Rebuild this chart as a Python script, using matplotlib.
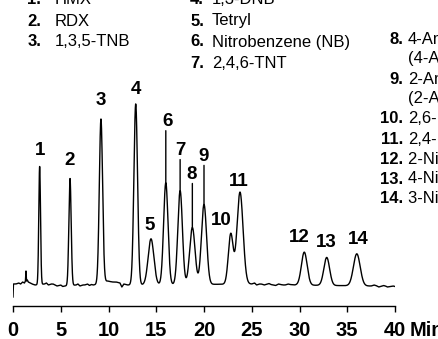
"""Chromatogram of 14 explosives (EPA 8330 style) with compound key."""

import numpy as np
import matplotlib
matplotlib.use("Agg")
import matplotlib.pyplot as plt

plt.rcParams["font.family"] = ["Liberation Sans", "DejaVu Sans"]

# peaks (retention time in min, height, sigma in min)
peak_ids = list(range(1, 15))
peak_times = [2.79, 5.97, 9.21, 12.85, 14.45, 16.0, 17.5, 18.78, 20.0,
              22.8, 23.77, 30.5, 32.85, 36.0]
peak_heights = [118, 107, 164, 181, 46, 102, 94, 57, 80, 50, 92, 33, 28, 32]
peak_sigmas = [0.09, 0.12, 0.17, 0.19, 0.30, 0.23, 0.24, 0.28, 0.27,
               0.25, 0.32, 0.30, 0.30, 0.35]

# baseline (drift / noise) read between the peaks
base_t = [0.0, 0.04, 0.3, 0.6, 0.8, 1.0, 1.2, 1.3, 1.36, 1.42, 1.5, 1.6,
          1.8, 2.0, 2.3, 3.3, 3.5, 3.7, 4.0, 4.2, 4.4, 4.6, 5.0, 5.2, 5.4,
          6.6, 6.8, 7.0, 7.3, 7.5, 7.8, 8.0, 8.2, 8.4, 8.7, 9.9, 10.4, 10.8,
          11.2, 11.4, 11.6, 12.0, 25.0, 25.3, 25.5, 25.8, 26.0, 26.3, 26.5,
          26.8, 27.0, 27.3, 27.5, 27.8, 28.0, 28.3, 28.5, 28.8, 29.0, 29.5,
          37.5, 37.8, 38.0, 38.3, 38.5, 38.8, 39.0, 39.2, 39.5, 39.8, 40.0]
base_v = [-12, 1, 1, 2, 1, 3, 2, 4, 14, 4, 5, 3,
          2, 1, 0, 1, 2, 0, 1, 1, 0, -1, 0, -1.5, -1,
          0, 1, -1, 0, 0, 1, -0.5, 0.5, 0, 0.5, 4, 3, 3,
          2, -2, 1, 0, 1, 2, 0, 1, 1, 0, 0.5,
          1.5, 0.5, 0, -0.5, 1, 0.5, 0, 0, 1, 0.5, 0,
          -1, 0, -0.5, -2, -1.5, -0.5, -1, -2, -1.5, -1, -1.5]

x_ticks = [0, 5, 10, 15, 20, 25, 30, 35, 40]

key_col1 = [("1.", "HMX"), ("2.", "RDX"), ("3.", "1,3,5-TNB")]
key_col2 = [("4.", "1,3-DNB"), ("5.", "Tetryl"), ("6.", "Nitrobenzene (NB)"),
            ("7.", "2,4,6-TNT")]
key_col3 = [("8.", "4-Amino-2,6-dinitrotoluene"), ("", "(4-Am-DNT)"),
            ("9.", "2-Amino-4,6-dinitrotoluene"), ("", "(2-Am-DNT)"),
            ("10.", "2,6-DNT"), ("11.", "2,4-DNT"),
            ("12.", "2-Nitrotoluene (2-NT)"), ("13.", "4-Nitrotoluene (4-NT)"),
            ("14.", "3-Nitrotoluene (3-NT)")]

# label placement (pixel offsets from the peak top)
label_offsets = {1: (0, 16), 2: (0, 18), 3: (0, 19), 4: (0, 14), 5: (-1, 13),
                 6: (2, 61), 7: (0, 40), 8: (-1, 53), 9: (0, 48),
                 10: (-9, 13), 11: (-1, 11), 12: (-5, 15), 13: (0, 15),
                 14: (1, 14)}
leaders = {6, 7, 8, 9}

W, H = 438, 339
fig = plt.figure(figsize=(W / 100, H / 100), dpi=100)


def px(x, y):
    return x / W, 1 - y / H


ax = fig.add_axes([13 / W, 0, (395 - 13) / W, 1])
ax.patch.set_visible(False)
ax.set_xlim(0, 40)
ax.set_ylim(-(H - 285), 285)

t = np.union1d(np.linspace(0, 40, 4001), base_t)
signal = np.interp(t, base_t, base_v)
for tr, h, s in zip(peak_times, peak_heights, peak_sigmas):
    signal = signal + h * np.exp(-0.5 * ((t - tr) / s) ** 2)
ax.plot(t, signal, color="black", lw=1.0, solid_joinstyle="round")

for pid, tr in zip(peak_ids, peak_times):
    top = np.interp(tr, t, signal)
    dx, dy = label_offsets[pid]
    ax.annotate(str(pid), xy=(tr, top), xytext=(dx, dy),
                textcoords="offset pixels", ha="center", va="center",
                fontsize=13.5, fontweight="bold")
    if pid in leaders:
        ax.annotate("", xy=(tr, top), xytext=(0, dy - 9),
                    textcoords="offset pixels",
                    arrowprops=dict(arrowstyle="-", lw=1.0, color="black",
                                    shrinkA=0, shrinkB=0))

# x axis drawn below the trace
for side in ["left", "top", "right"]:
    ax.spines[side].set_visible(False)
ax.spines["bottom"].set_position(("data", -21))
ax.spines["bottom"].set_linewidth(1.0)
ax.set_yticks([])
ax.set_xticks(x_ticks)
ax.set_xticklabels([str(v) for v in x_ticks], fontweight="bold")
ax.tick_params(axis="x", direction="out", length=4.5, width=1.0, pad=6,
               labelsize=14.5)
ax.annotate("Min", xy=(40, -21), xytext=(15, -25), textcoords="offset pixels",
            ha="left", va="center", fontsize=14.5, fontweight="bold")

# compound key
for col, (x_num, x_txt, y0, step) in zip(
        [key_col1, key_col2, key_col3],
        [(41, 55, 0, 21), (204, 212, 0, 21), (403, 408, 39, 20)]):
    for i, (num, name) in enumerate(col):
        y = y0 + i * step
        fig.text(*px(x_num, y), num, ha="right", va="center", fontsize=12,
                 fontweight="bold")
        fig.text(*px(x_txt, y), name, ha="left", va="center", fontsize=12)

fig.savefig("out.png", dpi=100)
